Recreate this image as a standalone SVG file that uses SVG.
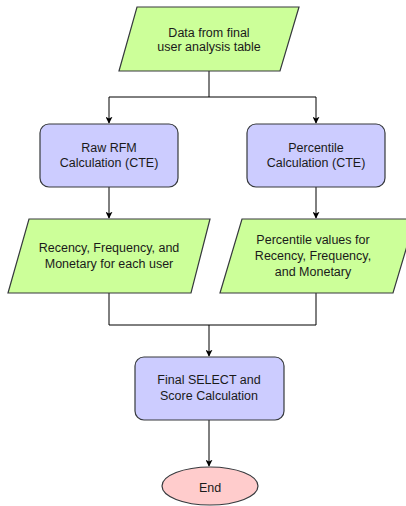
<svg xmlns="http://www.w3.org/2000/svg" width="406" height="506" viewBox="0 0 406 506">
  <defs>
    <marker id="arrow" viewBox="0 0 10 10" refX="9" refY="5" markerWidth="7" markerHeight="7" orient="auto" markerUnits="userSpaceOnUse">
      <path d="M0,0 L10,5 L0,10 L2.5,5 Z" fill="#000"/>
    </marker>
    <style>
      .data { fill: #ccff99; stroke: #36393d; stroke-width: 1.2; }
      .proc { fill: #ccccff; stroke: #36393d; stroke-width: 1.2; }
      .term { fill: #ffcccc; stroke: #36393d; stroke-width: 1.2; }
      .edge { fill: none; stroke: #000; stroke-width: 1; }
      text { font-family: "Liberation Sans", Arial, sans-serif; font-size: 12.5px; fill: #1a1a1a; text-anchor: middle; dominant-baseline: central; }
    </style>
  </defs>
  <rect width="406" height="506" fill="#fff"/>

  <g id="connectors">
    <path class="edge" d="M209,71 V97 H109 V123" marker-end="url(#arrow)"/>
    <path class="edge" d="M209,97 H316 V123" marker-end="url(#arrow)"/>
    <path class="edge" d="M109,187 V218" marker-end="url(#arrow)"/>
    <path class="edge" d="M316,187 V218" marker-end="url(#arrow)"/>
    <path class="edge" d="M109,293 V325 H316 V293"/>
    <path class="edge" d="M209,325 V356" marker-end="url(#arrow)"/>
    <path class="edge" d="M209,420 V466" marker-end="url(#arrow)"/>
  </g>

  <g id="source-data">
    <polygon class="data" points="137,7 299,7 280,71 119,71"/>
    <text x="209" y="33">Data from final</text>
    <text x="209" y="47">user analysis table</text>
  </g>

  <g id="raw-rfm">
    <rect class="proc" x="40" y="124" width="138" height="63" rx="9"/>
    <text x="109" y="148">Raw RFM</text>
    <text x="109" y="163">Calculation (CTE)</text>
  </g>

  <g id="percentile-calc">
    <rect class="proc" x="247" y="124" width="138" height="63" rx="9"/>
    <text x="316" y="148">Percentile</text>
    <text x="316" y="163">Calculation (CTE)</text>
  </g>

  <g id="rfm-values">
    <polygon class="data" points="29,219 210,219 191,293 8,293"/>
    <text x="109" y="248">Recency, Frequency, and</text>
    <text x="109" y="264">Monetary for each user</text>
  </g>

  <g id="percentile-values">
    <polygon class="data" points="242,219 415,219 393,293 220,293"/>
    <text x="313" y="240">Percentile values for</text>
    <text x="313" y="256">Recency, Frequency,</text>
    <text x="313" y="272">and Monetary</text>
  </g>

  <g id="final-select">
    <rect class="proc" x="135" y="357" width="149" height="63" rx="9"/>
    <text x="209" y="380">Final SELECT and</text>
    <text x="209" y="396">Score Calculation</text>
  </g>

  <g id="end">
    <ellipse class="term" cx="210" cy="486" rx="48" ry="19"/>
    <text x="210" y="488">End</text>
  </g>
</svg>
